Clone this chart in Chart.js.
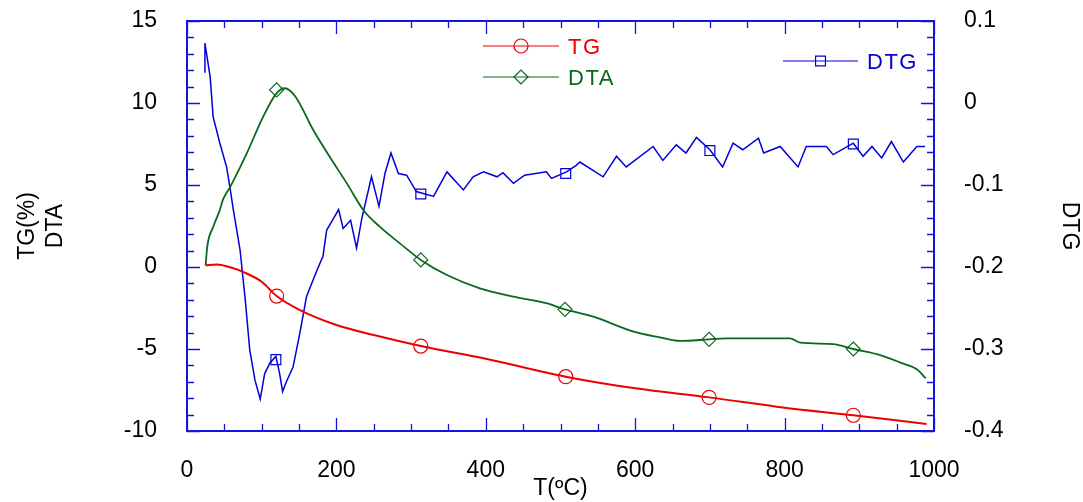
<!DOCTYPE html>
<html>
<head>
<meta charset="utf-8">
<script src="https://cdn.jsdelivr.net/npm/chart.js@4.4.1/dist/chart.umd.min.js"></script>
<style>
  html, body { margin: 0; padding: 0; background: #fff; }
  #wrap { width: 1083px; height: 502px; }
</style>
</head>
<body>
<div id="wrap"><canvas id="grafica"></canvas></div>
<script>
// TG (%) - left axis
const tgT = [25, 40, 60, 75, 100, 120, 150, 200, 250, 313, 400, 507, 600, 699, 800, 892, 990];
const tgV = [0.1, 0.15, -0.05, -0.3, -0.9, -1.77, -2.6, -3.54, -4.15, -4.82, -5.6, -6.69, -7.4, -7.95, -8.58, -9.04, -9.57];
const tgMarkT = [120, 313, 507, 699, 892];
const tgMarkV = [-1.77, -4.82, -6.69, -7.95, -9.04];

// DTA - left axis
const dtaT = [25, 27, 35, 44, 48, 58, 80, 102, 120, 131, 145, 169, 191, 214, 236, 258, 285, 313, 348, 392, 437, 481, 506, 544, 598, 633, 660, 699, 722, 807, 821, 865, 892, 928, 955, 977, 989];
const dtaV = [0.1, 1.2, 2.44, 3.48, 4.09, 4.9, 6.93, 9.17, 10.6, 10.9, 10.4, 8.35, 6.72, 5.1, 3.48, 2.46, 1.44, 0.43, -0.49, -1.3, -1.81, -2.21, -2.58, -3.03, -3.94, -4.29, -4.51, -4.41, -4.35, -4.35, -4.61, -4.7, -5.0, -5.37, -5.83, -6.24, -6.79];
const dtaMarkT = [120, 313, 506, 699, 892];
const dtaMarkV = [10.8, 0.43, -2.58, -4.41, -5.0];

// DTG - right axis
const dtgT = [24, 24, 31, 35, 44, 53, 58, 62, 71, 78, 84, 91, 98, 104, 111, 119, 124, 128, 133, 142, 151, 160, 174, 182, 187, 196, 203, 209, 219, 227, 234, 247, 257, 265, 273, 283, 294, 307, 330, 348, 370, 383, 397, 415, 423, 437, 452, 481, 488, 508, 521, 526, 557, 575, 588, 624, 637, 655, 668, 682, 700, 717, 731, 744, 765, 772, 794, 818, 829, 856, 865, 892, 905, 917, 930, 943, 959, 977, 988];
const dtgV = [0.037, 0.073, 0.032, -0.017, -0.049, -0.078, -0.106, -0.130, -0.179, -0.240, -0.301, -0.338, -0.361, -0.330, -0.317, -0.309, -0.330, -0.352, -0.340, -0.322, -0.281, -0.236, -0.204, -0.187, -0.155, -0.141, -0.130, -0.153, -0.143, -0.177, -0.141, -0.090, -0.126, -0.086, -0.061, -0.086, -0.088, -0.108, -0.114, -0.084, -0.106, -0.090, -0.084, -0.090, -0.085, -0.098, -0.088, -0.084, -0.092, -0.084, -0.076, -0.072, -0.090, -0.065, -0.078, -0.053, -0.070, -0.051, -0.061, -0.042, -0.057, -0.078, -0.049, -0.057, -0.043, -0.061, -0.053, -0.078, -0.053, -0.053, -0.063, -0.049, -0.065, -0.053, -0.067, -0.047, -0.072, -0.053, -0.053];
const dtgMarkT = [119, 313, 507, 700, 892];
const dtgMarkV = [-0.313, -0.111, -0.086, -0.058, -0.050];

const xTicks = [0, 200, 400, 600, 800, 1000];

const rojo = "rgb(235, 0, 0)";
const verde = "rgb(10, 105, 30)";
const azul = "rgb(0, 0, 215)";
const marco = "rgb(20, 20, 225)";
const fuente = '"Liberation Sans", Arial, sans-serif';

const puntos = (xs, ys) => xs.map((x, i) => ({ x: x, y: ys[i] }));

function linea(label, xs, ys, color, eje, ancho, suave) {
    return {
        label: label, data: puntos(xs, ys), yAxisID: eje,
        borderColor: color, borderWidth: ancho, pointRadius: 0,
        cubicInterpolationMode: suave ? "monotone" : "default",
        tension: 0, fill: false
    };
}

function marcas(label, xs, ys, color, eje, estilo, radio) {
    return {
        label: label, data: puntos(xs, ys), yAxisID: eje, showLine: false,
        borderColor: color, backgroundColor: "rgba(0,0,0,0)", borderWidth: 1.2,
        pointStyle: estilo, pointRadius: radio
    };
}

// ticks hacia adentro, marco y leyenda
const marcoPlugin = {
    id: "marco",
    afterDatasetsDraw(chart) {
        const ctx = chart.ctx;
        const { left, right, top, bottom } = chart.chartArea;
        const sx = chart.scales.x, sy = chart.scales.y, sy2 = chart.scales.y2;
        ctx.save();
        ctx.strokeStyle = marco;
        ctx.lineWidth = 1.3;
        ctx.beginPath();
        for (let v = 0; v <= 1000; v += 50) {
            const px = Math.round(sx.getPixelForValue(v)) + 0.5;
            const len = v % 200 === 0 ? 13 : 7;
            ctx.moveTo(px, bottom); ctx.lineTo(px, bottom - len);
            ctx.moveTo(px, top); ctx.lineTo(px, top + len);
        }
        for (let v = -10; v <= 15; v++) {
            const py = Math.round(sy.getPixelForValue(v)) + 0.5;
            const len = v % 5 === 0 ? 13 : 7;
            ctx.moveTo(left, py); ctx.lineTo(left + len, py);
        }
        for (let i = -20; i <= 5; i++) {
            const py = Math.round(sy2.getPixelForValue(i / 50)) + 0.5;
            const len = i % 5 === 0 ? 13 : 7;
            ctx.moveTo(right, py); ctx.lineTo(right - len, py);
        }
        ctx.stroke();
        ctx.lineWidth = 2;
        ctx.strokeRect(left, top, right - left, bottom - top);

        // leyenda
        const items = [
            { t: "TG", c: rojo, s: "circle", x0: 483, x1: 559, y: 46 },
            { t: "DTA", c: verde, s: "rectRot", x0: 483, x1: 559, y: 77 },
            { t: "DTG", c: azul, s: "rect", x0: 783, x1: 858, y: 61 }
        ];
        ctx.font = "22px " + fuente;
        ctx.textBaseline = "middle";
        ctx.letterSpacing = "1.5px";
        items.forEach(it => {
            ctx.strokeStyle = it.c;
            ctx.fillStyle = "rgba(0,0,0,0)";
            ctx.lineWidth = 1.2;
            ctx.beginPath();
            ctx.moveTo(it.x0, it.y); ctx.lineTo(it.x1, it.y);
            ctx.stroke();
            Chart.helpers.drawPoint(ctx, { pointStyle: it.s, radius: 7, borderWidth: 1.2 }, (it.x0 + it.x1) / 2, it.y);
            ctx.fillStyle = it.c;
            ctx.fillText(it.t, it.x1 + 9, it.y + 2);
        });
        ctx.restore();
    }
};

const fTick = { family: fuente, size: 23 };

function ancho(w) {
    return s => { s.width = w; s.paddingTop = 0; s.paddingBottom = 0; };
}

const config = {
    type: "line",
    data: {
        datasets: [
            linea("TG", tgT, tgV, rojo, "y", 2, true),
            linea("DTA", dtaT, dtaV, verde, "y", 1.8, true),
            linea("DTG", dtgT, dtgV, azul, "y2", 1.5, false),
            marcas("TG m", tgMarkT, tgMarkV, rojo, "y", "circle", 7),
            marcas("DTA m", dtaMarkT, dtaMarkV, verde, "y", "rectRot", 7),
            marcas("DTG m", dtgMarkT, dtgMarkV, azul, "y2", "rect", 7)
        ]
    },
    options: {
        responsive: false,
        animation: false,
        layout: { padding: { top: 21, left: 0, right: 0, bottom: 0 } },
        plugins: { legend: { display: false }, tooltip: { enabled: false } },
        scales: {
            x: {
                type: "linear", min: 0, max: 1000,
                afterBuildTicks: s => { s.ticks = xTicks.map(v => ({ value: v })); },
                afterFit: s => { s.height = 71; s.paddingLeft = 0; s.paddingRight = 0; },
                ticks: { color: "#000", font: fTick, padding: 18, maxRotation: 0,
                    callback: v => String(v) },
                grid: { display: false }, border: { display: false },
                title: { display: true, text: "T(ºC)", color: "#000", font: fTick, padding: { top: -8, bottom: 0 } }
            },
            y: {
                position: "left", min: -10, max: 15,
                afterFit: ancho(187),
                ticks: { stepSize: 5, color: "#000", font: fTick, padding: 22 },
                grid: { display: false }, border: { display: false },
                title: { display: true, text: ["TG(%)", "DTA"], color: "#000", font: fTick, padding: { top: 14, bottom: 0 } }
            },
            y2: {
                position: "right", min: -0.4, max: 0.1,
                afterFit: ancho(149),
                ticks: { stepSize: 0.1, color: "#000", font: fTick, padding: 22,
                    callback: v => String(Math.round(v * 10) / 10) },
                grid: { display: false }, border: { display: false },
                title: { display: true, text: "DTG", color: "#000", font: fTick, padding: { top: 0, bottom: 2 } }
            }
        }
    },
    plugins: [marcoPlugin]
};

const lienzo = document.getElementById("grafica");
lienzo.width = 1083;
lienzo.height = 502;
new Chart(lienzo, config);
</script>
</body>
</html>
